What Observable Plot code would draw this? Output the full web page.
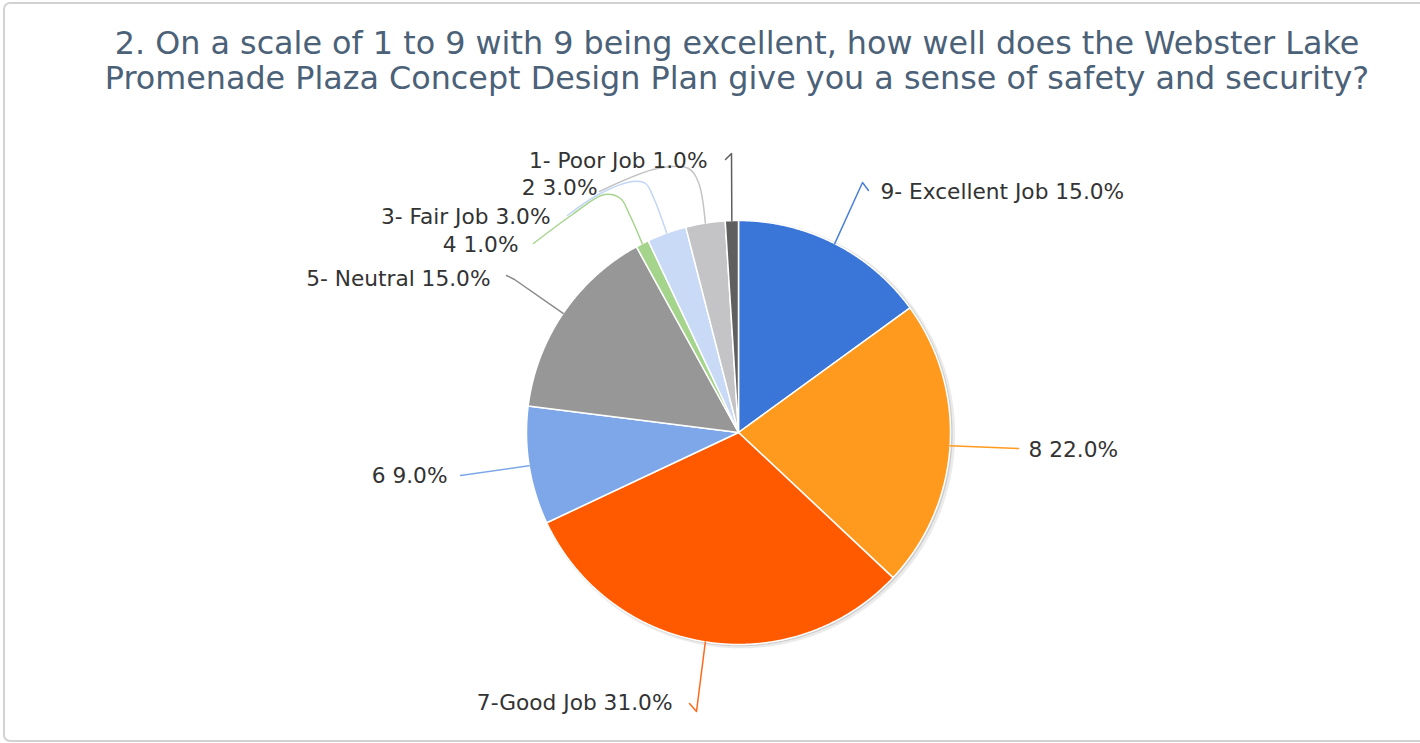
<!DOCTYPE html>
<html><head><meta charset="utf-8">
<script src="https://cdn.jsdelivr.net/npm/d3@7"></script>
<script src="https://cdn.jsdelivr.net/npm/@observablehq/plot@0.6"></script>
<style>
html,body{margin:0;padding:0;background:#fff;}
#wrap{position:relative;width:1420px;height:743px;overflow:hidden;font-family:"DejaVu Sans",sans-serif;}
#frame{position:absolute;left:3px;top:2px;width:1490px;height:736px;border:2px solid #d2d2d2;border-radius:7px;}
#title{position:absolute;left:0;top:25px;width:1474px;text-align:center;font-size:31.8px;line-height:35px;color:#4b6178;white-space:nowrap;}
#chart{position:absolute;left:0;top:0;}
</style></head>
<body>
<div id="wrap">
<div id="frame"></div>
<div id="title">2. On a scale of 1 to 9 with 9 being excellent, how well does the Webster Lake<br>Promenade Plaza Concept Design Plan give you a sense of safety and security?</div>
<div id="chart"></div>
</div>
<script>
// ---- data ----
const categories = ["9- Excellent Job", "8", "7-Good Job", "6", "5- Neutral", "4", "3- Fair Job", "2", "1- Poor Job"];
const percents = [15, 22, 31, 9, 15, 1, 3, 3, 1];

// ---- styling ----
const sliceColors = ["#3a75d8", "#ff9a1f", "#ff5a00", "#7ea7e9", "#979797", "#a5d48c", "#c9daf6", "#c4c4c6", "#5f5f5f"];
const leaderColors = ["#4a80dc", "#ff9a1f", "#ff6a1a", "#7ea7e9", "#8a8a8a", "#a5d48c", "#c2d5f5", "#c4c4c6", "#5f5f5f"];

// ---- layout (pixel geometry of the pie and label placement) ----
const CX = 738, CY = 432, R = 212;
const P = (px, py) => [(px - CX) / R, (CY - py) / R];
const labelLayout = {
  "9- Excellent Job": {at: [880, 192], anchor: "start", curve: "linear", path: [[868, 190], [862, 182]]},
  "8": {at: [1028, 450], anchor: "start", curve: "linear", path: [[1018, 448]]},
  "7-Good Job": {at: [672, 703], anchor: "end", curve: "linear", path: [[689, 703], [696, 711]]},
  "6": {at: [447, 476], anchor: "end", curve: "linear", path: [[460, 475]]},
  "5- Neutral": {at: [490, 279], anchor: "end", curve: "linear", path: [[506, 275], [514, 279]]},
  "4": {at: [518, 245], anchor: "end", curve: "catmull-rom", path: [[533, 243], [572, 214], [604, 194], [620, 198], [629, 214]]},
  "3- Fair Job": {at: [550, 217], anchor: "end", curve: "catmull-rom", path: [[567, 215], [598, 194], [632, 181], [645, 183], [653, 197]]},
  "2": {at: [597, 188], anchor: "end", curve: "catmull-rom", path: [[599, 191], [657, 168], [688, 168], [698, 182]]},
  "1- Poor Job": {at: [707, 161], anchor: "end", curve: "linear", path: [[725, 159], [731, 153]]}
};

const rows = categories.map((c, i) => ({category: c, value: percents[i]}));
const arcs = d3.pie().sort(null).value(d => d.value)(rows);
const colorScale = Plot.scale({color: {type: "ordinal", domain: categories, range: sliceColors}});

// slice polygons
const slicePolys = arcs.map(a => {
  const pts = [{x: 0, y: 0}];
  const n = Math.max(4, Math.ceil((a.endAngle - a.startAngle) / 0.005));
  for (let k = 0; k <= n; k++) {
    const t = a.startAngle + (a.endAngle - a.startAngle) * k / n;
    pts.push({x: Math.sin(t), y: Math.cos(t)});
  }
  return {category: a.data.category, pts};
});

// soft shadow ring
const shadow = (dx, dy, r) => d3.range(0, 361, 1).map(deg => ({x: dx + r * Math.sin(deg * Math.PI / 180), y: dy + r * Math.cos(deg * Math.PI / 180)}));

// leader lines and labels
const leaders = [];
const labels = [];
arcs.forEach((a, i) => {
  const c = a.data.category;
  const L = labelLayout[c];
  const mid = (a.startAngle + a.endAngle) / 2;
  const pts = L.path.map(p => { const [x, y] = P(p[0], p[1]); return {x, y}; });
  pts.push({x: Math.sin(mid), y: Math.cos(mid)});
  leaders.push({category: c, color: leaderColors[i], curve: L.curve, pts});
  const [lx, ly] = P(L.at[0], L.at[1]);
  labels.push({category: c, x: lx, y: ly, anchor: L.anchor, text: `${c} ${a.data.value.toFixed(1)}%`});
});

const chart = Plot.plot({
  width: 1420, height: 743,
  margin: 0,
  x: {domain: [-1, 1], range: [CX - R, CX + R], axis: null},
  y: {domain: [-1, 1], range: [CY + R, CY - R], axis: null},
  style: {background: "transparent", fontFamily: "DejaVu Sans"},
  marks: [
    Plot.line(shadow(0.012, -0.008, 1.01), {x: "x", y: "y", fill: "#000", fillOpacity: 0.08, stroke: "none", curve: "linear-closed"}),
    Plot.line(shadow(0.006, -0.004, 1.004), {x: "x", y: "y", fill: "#000", fillOpacity: 0.12, stroke: "none", curve: "linear-closed"}),
    ...slicePolys.map(s => Plot.line(s.pts, {x: "x", y: "y", fill: colorScale.apply(s.category), stroke: "white", strokeWidth: 1.5, strokeLinejoin: "round", curve: "linear-closed"})),
    ...leaders.map(l => Plot.line(l.pts, {x: "x", y: "y", stroke: l.color, strokeWidth: 1.5, curve: l.curve})),
    Plot.text(labels.filter(d => d.anchor === "start"), {x: "x", y: "y", text: "text", textAnchor: "start", fontSize: 21.7, fill: "#333"}),
    Plot.text(labels.filter(d => d.anchor === "end"), {x: "x", y: "y", text: "text", textAnchor: "end", fontSize: 21.7, fill: "#333"})
  ]
});
document.getElementById("chart").appendChild(chart);
</script>
</body></html>
